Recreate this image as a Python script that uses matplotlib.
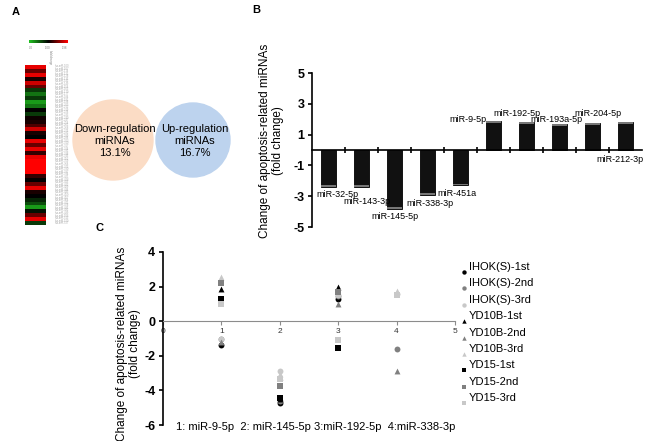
import numpy as np
import matplotlib
matplotlib.use('Agg')
import matplotlib.pyplot as plt
from matplotlib.colors import LinearSegmentedColormap
from matplotlib.patches import Circle

plt.rcParams['font.family'] = ['Liberation Sans', 'DejaVu Sans']

# ---- panel A data ----
heat_vals = [0.9, 0.4, 0.9, 0.1, 0.8, 0.4, -0.3, -0.6, -0.3, -0.8, -0.6, 0.0,
             -0.3, 0.05, 0.1, 0.3, 0.8, 0.1, 0.0, 0.9, 0.4, 0.9, 0.2, 0.9, 1.0,
             1.0, 1.0, 1.0, 0.2, 0.0, 0.4, 0.9, 0.1, 0.0, -0.2, -0.4, -0.8,
             -0.1, 0.4, 0.9, -0.3]
venn_labels = ['Down-regulation\nmiRNAs\n13.1%', 'Up-regulation\nmiRNAs\n16.7%']

# ---- panel B data ----
mirs_b = ['miR-32-5p', 'miR-143-3p', 'miR-145-5p', 'miR-338-3p', 'miR-451a',
          'miR-9-5p', 'miR-192-5p', 'miR-193a-5p', 'miR-204-5p', 'miR-212-3p']
fold_b = [-2.4, -2.4, -3.8, -2.9, -2.3, 1.9, 1.8, 1.7, 1.75, 1.8]

# ---- panel C data ----
x_c = [1, 2, 3, 4]
c_names = ['IHOK(S)-1st', 'IHOK(S)-2nd', 'IHOK(S)-3rd',
           'YD10B-1st', 'YD10B-2nd', 'YD10B-3rd',
           'YD15-1st', 'YD15-2nd', 'YD15-3rd']
ihok_1 = [-1.35, -4.75, 1.3, np.nan]
ihok_2 = [-1.05, -4.6, 1.45, -1.6]
ihok_3 = [-1.0, -2.9, 1.5, 1.6]
yd10b_1 = [1.85, -4.5, 1.95, np.nan]
yd10b_2 = [-1.2, -3.2, 1.0, -2.9]
yd10b_3 = [2.55, -3.05, 1.55, 1.75]
yd15_1 = [1.3, -4.45, -1.55, np.nan]
yd15_2 = [2.2, -3.75, 1.7, np.nan]
yd15_3 = [1.0, -3.35, -1.1, 1.5]
c_series = [ihok_1, ihok_2, ihok_3, yd10b_1, yd10b_2, yd10b_3, yd15_1, yd15_2, yd15_3]
c_note = '1: miR-9-5p  2: miR-145-5p 3:miR-192-5p  4:miR-338-3p'

W, H = 650, 441
fig = plt.figure(figsize=(W / 100, H / 100), dpi=100)

def px_axes(x0, y0, x1, y1):
    return fig.add_axes([x0 / W, 1 - y1 / H, (x1 - x0) / W, (y1 - y0) / H])

# overlay in pixel coordinates (panel A, panel letters, legend of C)
ov = fig.add_axes([0, 0, 1, 1])
ov.axis('off')

cmap = LinearSegmentedColormap.from_list('gkr', ['#20c020', '#000000', '#ff0000'])
ov.imshow(np.array(heat_vals).reshape(-1, 1), cmap=cmap, vmin=-1, vmax=1,
          extent=(25, 46, 225, 65), aspect='auto', interpolation='nearest')
ov.imshow(np.linspace(-1, 1, 50).reshape(1, -1), cmap=cmap, vmin=-1, vmax=1,
          extent=(29, 68, 43, 40), aspect='auto')
for xx, t in zip([31, 48, 64], ['0.0', '1.00', '1.98']):
    ov.text(xx, 46, t, fontsize=2, color='#777', ha='center', va='top')
ov.text(48, 50, 'fold change', fontsize=2, color='#777', rotation=-90, va='top')
for k in range(62):
    ov.text(55, 66 + k * 2.58, 'hsa-miR-' + str(100 + k * 7), fontsize=1.8,
            color='#aaa', va='center')

ov.add_patch(Circle((113, 140), 40, color='#fbdcc5', zorder=1))
ov.add_patch(Circle((193, 140), 37, color='#bdd3ee', zorder=1))
ov.text(115, 141, venn_labels[0], ha='center', va='center', fontsize=8,
        linespacing=1.3, color='#000000', zorder=2)
ov.text(195, 141, venn_labels[1], ha='center', va='center', fontsize=8,
        linespacing=1.3, color='#000000', zorder=2)

ov.text(12, 12, 'A', fontsize=8, fontweight='bold', va='center')
ov.text(252, 10, 'B', fontsize=8, fontweight='bold', va='center')
ov.text(95, 228, 'C', fontsize=8, fontweight='bold', va='center')

# ---- panel B ----
axb = px_axes(312, 73, 642, 227)
axb.set_facecolor('none')
xb = np.arange(len(mirs_b))
axb.bar(xb, fold_b, width=0.43, color='#111111', edgecolor='#000000', linewidth=0.6)
axb.bar(xb, [np.sign(v) * 0.12 for v in fold_b], bottom=[v - np.sign(v) * 0.12 for v in fold_b],
        width=0.43, color='#777777', linewidth=0)
axb.set_xlim(-0.5, 9.5)
axb.set_ylim(-5, 5)
for s in ['top', 'right']:
    axb.spines[s].set_visible(False)
axb.spines['bottom'].set_position(('data', 0))
axb.spines['bottom'].set_linewidth(1.2)
axb.spines['left'].set_linewidth(1.2)
axb.set_yticks([-5, -3, -1, 1, 3, 5])
axb.set_yticklabels(['-5', '-3', '-1', '1', '3', '5'], fontsize=9, fontweight='bold')
axb.set_xticks(np.arange(0.5, 9.5, 1))
axb.set_xticklabels([])
axb.tick_params(axis='x', direction='inout', length=5, width=1.2)
axb.tick_params(axis='y', direction='out', length=3, width=1.2, pad=2.5)
axb.set_ylabel('Change of apoptosis-related miRNAs\n(fold change)', fontsize=8.5,
               linespacing=1.1)
axb.yaxis.set_label_coords(-0.085, 0.56)
label_dx = [0.26, 0.17, 0.0, 0.08, -0.1, -0.77, -0.3, -0.08, 0.17, -0.17]
label_dy = [-0.5, -0.95, -0.55, -0.55, -0.5, 0.1, 0.6, 0.3, 0.65, -2.4]
for i, (name, v) in enumerate(zip(mirs_b, fold_b)):
    axb.text(i + label_dx[i], v + label_dy[i], name, fontsize=6.5, ha='center', va='center')

# ---- panel C ----
axc = px_axes(163, 252, 455, 425)
axc.set_facecolor('none')
colors = ['#000000', '#808080', '#c8c8c8']
markers = ['o', '^', 's']
for k, (name, vals) in enumerate(zip(c_names, c_series)):
    axc.scatter(x_c, vals, s=18, marker=markers[k // 3], color=colors[k % 3],
                linewidths=0, zorder=3)
axc.set_xlim(0, 5)
axc.set_ylim(-6, 4)
for s in ['top', 'right']:
    axc.spines[s].set_visible(False)
axc.spines['bottom'].set_position(('data', 0))
axc.spines['bottom'].set_color('#8c8c8c')
axc.spines['left'].set_linewidth(1.2)
axc.set_yticks([-6, -4, -2, 0, 2, 4])
axc.set_yticklabels(['-6', '-4', '-2', '0', '2', '4'], fontsize=9, fontweight='bold')
axc.set_xticks([0, 1, 2, 3, 4, 5])
axc.set_xticklabels(['0', '1', '2', '3', '4', '5'], fontsize=6, color='#333')
axc.tick_params(axis='x', direction='out', length=3, color='#8c8c8c', pad=2)
axc.tick_params(axis='y', direction='out', length=3, width=1.2, pad=2.5)
axc.set_ylabel('Change of apoptosis-related miRNAs\n(fold change)', fontsize=8.5,
               linespacing=1.1)
axc.yaxis.set_label_coords(-0.075, 0.47)
axc.text(0.22, -6.1, c_note, fontsize=8, ha='left', va='center')

# legend of panel C drawn by hand in pixel coordinates
for k, name in enumerate(c_names):
    yy = 267 + k * 16.4
    ov.scatter([464], [yy + 5], s=10, marker=markers[k // 3], color=colors[k % 3],
               linewidths=0)
    ov.text(469, yy, name, fontsize=8, va='center')
ov.set_xlim(0, W)
ov.set_ylim(H, 0)

fig.savefig('out.png', dpi=100)
